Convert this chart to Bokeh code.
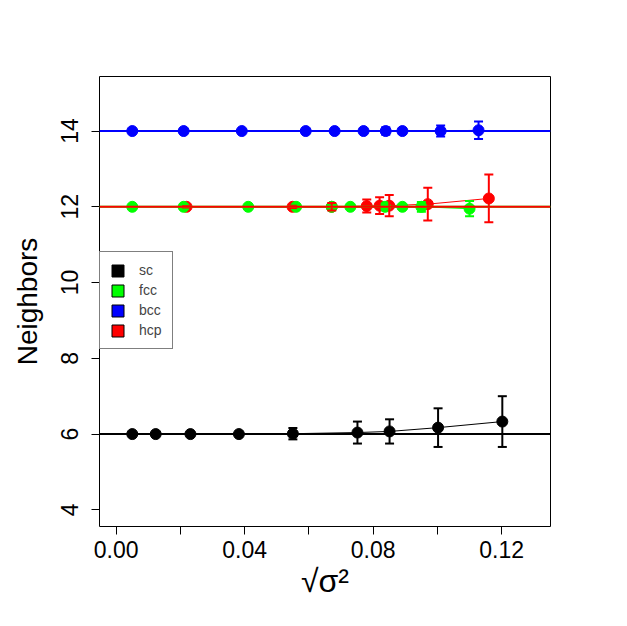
from bokeh.plotting import figure
from bokeh.models import (Range1d, FixedTicker, PrintfTickFormatter, Span, Whisker,
                          TeeHead, ColumnDataSource, Legend, LegendItem)
from bokeh.embed import file_html
from bokeh.resources import INLINE

# ---- data ----
sc_x = [0.0050, 0.0123, 0.0231, 0.0382, 0.0550, 0.0751, 0.0851, 0.1002, 0.1202]
sc_y = [6.0, 6.0, 6.0, 6.0, 6.01, 6.04, 6.07, 6.17, 6.33]
sc_err = [0.01, 0.01, 0.02, 0.03, 0.15, 0.29, 0.32, 0.51, 0.67]

fcc_x = [0.0050, 0.0210, 0.0411, 0.0560, 0.0671, 0.0729, 0.0837, 0.0891, 0.0950, 0.1100]
fcc_y = [12.0, 12.0, 12.0, 12.0, 12.0, 12.0, 12.0, 12.0, 12.0, 11.95]
fcc_err = [0.01, 0.01, 0.01, 0.02, 0.03, 0.03, 0.05, 0.05, 0.13, 0.20]

bcc_x = [0.0050, 0.0210, 0.0391, 0.0590, 0.0680, 0.0770, 0.0839, 0.0891, 0.1010, 0.1128]
bcc_y = [14.0, 14.0, 14.0, 14.0, 14.0, 14.0, 14.0, 14.0, 14.0, 14.02]
bcc_err = [0.01, 0.01, 0.01, 0.02, 0.02, 0.03, 0.10, 0.08, 0.145, 0.23]

hcp_x = [0.0219, 0.0549, 0.0671, 0.0780, 0.0820, 0.0850, 0.0970, 0.1160]
hcp_y = [12.0, 12.0, 12.0, 12.02, 12.03, 12.03, 12.07, 12.22]
hcp_err = [0.02, 0.03, 0.10, 0.17, 0.22, 0.28, 0.43, 0.63]

names = ["sc", "fcc", "bcc", "hcp"]
colors = ["#000000", "#00FF00", "#0000FF", "#FF0000"]
ref_values = [6, 12, 14, 12]

x_ticks = [0.0, 0.04, 0.08, 0.12]
x_minor = [0.02, 0.06, 0.10]
y_ticks = [4, 6, 8, 10, 12, 14]
xlim = (0.0, 0.13)
ylim = (4.0, 15.0)

FONT = "Liberation Sans"

def ext(lim):
    d = (lim[1] - lim[0]) * 0.04
    return lim[0] - d, lim[1] + d

p = figure(width=619, height=618,
           x_range=Range1d(*ext(xlim)), y_range=Range1d(*ext(ylim)),
           output_backend="svg", toolbar_location=None,
           min_border_left=99, min_border_right=69,
           min_border_top=76, min_border_bottom=92)
p.grid.visible = False
p.outline_line_color = "black"
p.outline_line_width = 1
p.background_fill_color = "white"
p.border_fill_color = "white"

series = {
    "sc": (sc_x, sc_y, sc_err),
    "fcc": (fcc_x, fcc_y, fcc_err),
    "bcc": (bcc_x, bcc_y, bcc_err),
    "hcp": (hcp_x, hcp_y, hcp_err),
}
col = dict(zip(names, colors))

# thin connecting lines
for n in names:
    x, y, e = series[n]
    p.line(x, y, line_color=col[n], line_width=1)

# points (hcp before fcc so green sits on top)
for n in ["sc", "hcp", "fcc", "bcc"]:
    x, y, e = series[n]
    p.scatter(x, y, size=11, marker="circle", fill_color=col[n], line_color=col[n], line_width=1)

# error bars
for n in names:
    x, y, e = series[n]
    src = ColumnDataSource(dict(x=x, upper=[a + b for a, b in zip(y, e)],
                                lower=[a - b for a, b in zip(y, e)]))
    w = Whisker(base="x", upper="upper", lower="lower", source=src, dimension="height",
                line_color=col[n], line_width=2, level="annotation",
                upper_head=TeeHead(size=9, line_color=col[n], line_width=2),
                lower_head=TeeHead(size=9, line_color=col[n], line_width=2))
    p.add_layout(w)

# reference lines
for n, v in zip(names, ref_values):
    p.add_layout(Span(location=v, dimension="width", line_color=col[n], line_width=2,
                      level="annotation"))

# legend with filled squares (legend-only renderers, nothing drawn on the plot)
nan = float("nan")
items = []
for n in names:
    r = p.quad(left=[nan], right=[nan], top=[nan], bottom=[nan], fill_color=col[n],
               line_color="black", line_width=1)
    items.append(LegendItem(label=n, renderers=[r]))
leg = Legend(items=items, location=(0, 177), padding=10, margin=0, spacing=4,
             glyph_width=15, glyph_height=15, label_height=15, label_standoff=14,
             label_text_font=FONT, label_text_font_size="14px",
             border_line_color="black", border_line_width=1,
             background_fill_color="white", background_fill_alpha=1.0)
p.add_layout(leg, "center")

# axes
for ax in (p.xaxis[0], p.yaxis[0]):
    ax.axis_line_color = None
    ax.major_tick_in = 0
    ax.major_tick_out = 8
    ax.minor_tick_in = 0
    ax.minor_tick_out = 8
    ax.major_tick_line_color = "black"
    ax.minor_tick_line_color = "black"
    ax.major_label_text_font = FONT
    ax.major_label_text_font_size = "23px"
    ax.major_label_text_color = "black"
    ax.axis_label_text_font = FONT
    ax.axis_label_text_font_style = "normal"
    ax.axis_label_text_color = "black"

p.xaxis.ticker = FixedTicker(ticks=x_ticks, minor_ticks=x_minor)
p.xaxis.formatter = PrintfTickFormatter(format="%.2f")
p.xaxis.major_label_standoff = 6
p.xaxis.axis_label = "√σ²"
p.xaxis.axis_label_text_font_size = "32px"
p.xaxis.axis_label_standoff = 2

p.yaxis.ticker = FixedTicker(ticks=y_ticks, minor_ticks=[])
p.yaxis.major_label_orientation = "vertical"
p.yaxis.major_label_standoff = 13
p.yaxis.axis_label = "Neighbors"
p.yaxis.axis_label_text_font_size = "28px"
p.yaxis.axis_label_standoff = 16

open("out.html", "w").write(file_html(p, INLINE))
